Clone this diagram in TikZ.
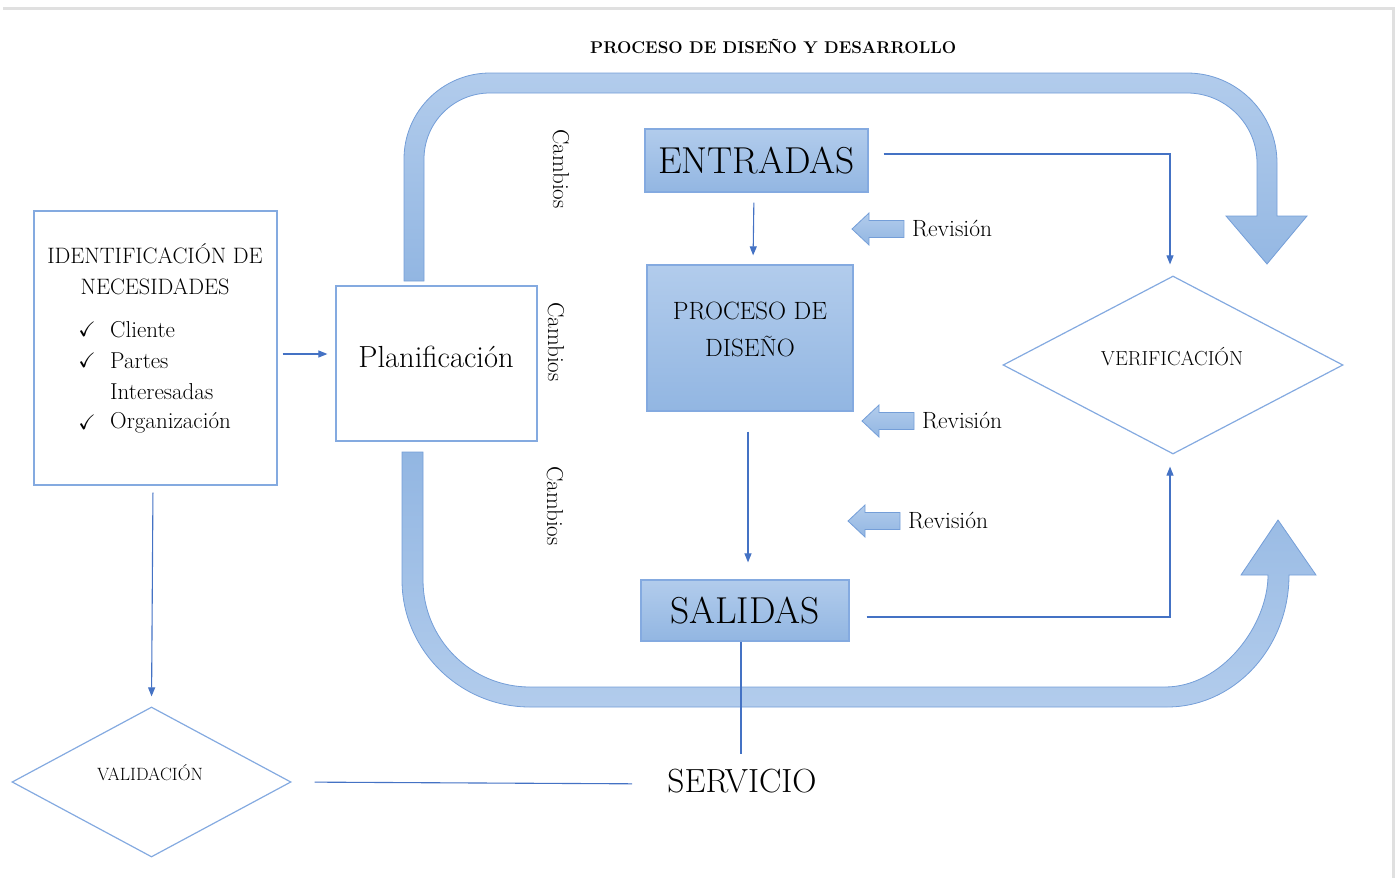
\documentclass[tikz,border=0pt]{standalone}
\usepackage{amsmath, amssymb}
\usepackage{tikz}
\usetikzlibrary{shapes.geometric, arrows.meta}

\definecolor{bandtop}{RGB}{178,204,236}
\definecolor{bandlow}{RGB}{146,182,226}
\definecolor{bandline}{RGB}{116,158,216}
\definecolor{thinblue}{RGB}{68,114,196}
\definecolor{frameblue}{RGB}{132,170,224}

% block arrow pointing left with its label: tip x, tip y, name
\newcommand{\revarrow}[3]{%
  \path[band] (#1,#2) -- ++(17,-16) -- ++(0,7.5) -- ++(35,0) -- ++(0,17)
    -- ++(-35,0) -- ++(0,7.5) -- cycle;
  \node[revtext] (#3) at (#1+60,#2) {Revisión};}

\begin{document}
\begin{tikzpicture}[x=1pt, y=-1pt]
        \tikzstyle{plainbox} = [draw=frameblue, line width=1.2pt, fill=white, inner sep=0pt]
        \tikzstyle{bluebox} = [draw=frameblue, line width=1.2pt, top color=bandtop, bottom color=bandlow, inner sep=0pt]
        \tikzstyle{decision} = [diamond, draw=frameblue, line width=1.2pt, inner sep=0pt]
        \tikzstyle{band} = [draw=bandline, line width=0.8pt, top color=bandtop, bottom color=bandlow]
        \tikzstyle{link} = [thinblue, line width=1.1pt]
        \tikzstyle{linkarrow} = [link, -{Triangle[length=9pt,width=7pt]}]
        \tikzstyle{vtext} = [rotate=-90, inner sep=0pt, font=\fontsize{23}{27}\selectfont]
        \tikzstyle{revtext} = [anchor=west, inner sep=0pt, font=\fontsize{23.5}{27}\selectfont]
        \tikzstyle{listtext} = [anchor=west, inner sep=0pt, font=\fontsize{23}{27}\selectfont]
        \useasboundingbox (0,0) rectangle (1400,878);
        \draw[black!12, line width=3pt] (3,8) -- (1393,8) -- (1393,878);
        \node[anchor=west, inner sep=0pt, font=\bfseries\fontsize{17}{20}\selectfont] (title) at (590,46) {PROCESO DE DISEÑO Y DESARROLLO};
        % big loop arrows
        \path[band] (404,281) -- (404,159) .. controls (404,111.5) and (442.5,73) .. (490,73)
        -- (1187,73) .. controls (1236.7,73) and (1277,113.3) .. (1277,163)
        -- (1277,216) -- (1307,216) -- (1267,264) -- (1226,216) -- (1257,216)
        -- (1257,163) .. controls (1257,124.4) and (1225.6,93) .. (1187,93)
        -- (490,93) .. controls (453.6,93) and (424,122.6) .. (424,159) -- (424,281) -- cycle;
        \path[band, top color=bandlow, bottom color=bandtop] (402,452) -- (402,580) .. controls (402,650.1) and (459.9,707) .. (530,707)
        -- (1167,707) .. controls (1234.3,707) and (1289,647.9) .. (1289,575)
        -- (1316,575) -- (1278,520) -- (1241,575) -- (1268,575)
        .. controls (1268,625.2) and (1221.9,687) .. (1165,687)
        -- (530,687) .. controls (470.9,687) and (423,639.1) .. (423,580) -- (423,452) -- cycle;
        % needs
        \node[plainbox, minimum width=243pt, minimum height=274pt] (needs) at (155.5,348) {};
        \node[align=center, inner sep=0pt, font=\fontsize{22.3}{31}\selectfont] (needstitle) at (155,269.5) {IDENTIFICACIÓN DE\\NECESIDADES};
        \node[inner sep=0pt, font=\fontsize{21}{25}\selectfont] (chk1) at (87,329) {$\checkmark$};
        \node[inner sep=0pt, font=\fontsize{21}{25}\selectfont] (chk2) at (87,360) {$\checkmark$};
        \node[inner sep=0pt, font=\fontsize{21}{25}\selectfont] (chk3) at (87,422) {$\checkmark$};
        \node[listtext] (cliente) at (110,330) {Cliente};
        \node[listtext] (partes) at (110,361) {Partes};
        \node[listtext] (interesadas) at (110,392) {Interesadas};
        \node[listtext] (organizacion) at (110,423) {Organización};
        % planning
        \node[plainbox, minimum width=201pt, minimum height=155pt] (plan) at (436.5,363.5) {};
        \node[inner sep=0pt, font=\fontsize{30.5}{36}\selectfont] (plantext) at (436,357) {Planificación};
        \node[vtext] (cambios1) at (561,169) {Cambios};
        \node[vtext] (cambios2) at (556,342) {Cambios};
        \node[vtext] (cambios3) at (555,506) {Cambios};
        % design chain
        \node[bluebox, minimum width=223pt, minimum height=63pt, font=\fontsize{37.5}{44}\selectfont] (entradas) at (756.5,160.5) {ENTRADAS};
        \node[bluebox, minimum width=206pt, minimum height=146pt] (proceso) at (750,338) {};
        \node[align=center, inner sep=0pt, font=\fontsize{25}{37}\selectfont] (procesotext) at (750,329.5) {PROCESO DE\\DISEÑO};
        \node[bluebox, minimum width=208pt, minimum height=61pt, font=\fontsize{37.5}{44}\selectfont] (salidas) at (745,610.5) {SALIDAS};
        \node[inner sep=0pt, font=\fontsize{33.5}{40}\selectfont] (servicio) at (742,781) {SERVICIO};
        \revarrow{852}{229}{rev1}
        \revarrow{862}{421}{rev2}
        \revarrow{848}{521}{rev3}
        % checks
        \node[decision, minimum width=340pt, minimum height=178pt] (verif) at (1173,365) {};
        \node[inner sep=0pt, font=\fontsize{20.3}{24}\selectfont] (veriftext) at (1172,357) {VERIFICACIÓN};
        \node[decision, minimum width=279pt, minimum height=150pt] (valid) at (151.5,782) {};
        \node[inner sep=0pt, font=\fontsize{17.8}{21}\selectfont] (validtext) at (150,773) {VALIDACIÓN};
        % links
        \coordinate (p1) at ([yshift=-6pt]needs.east);
        \coordinate (p2) at ([xshift=-2pt]proceso.south);
        \coordinate (p3) at ([xshift=-4pt]salidas.south);
        \draw[linkarrow, shorten <=5pt, shorten >=8pt] (p1) -- (p1 -| plan.west);
        \draw[linkarrow, shorten <=10pt, shorten >=9pt] ([xshift=-2.5pt]entradas.south) -- ([xshift=3pt]proceso.north);
        \draw[linkarrow, shorten <=20pt, shorten >=17pt] (p2) -- (p2 |- salidas.north);
        \draw[link, shorten >=15pt] (p3) -- (p3 |- servicio.north);
        \draw[link, shorten <=23pt, shorten >=35pt] (valid.east) -- ([yshift=-3pt]servicio.west);
        \draw[linkarrow, shorten <=7pt, shorten >=10pt] ([xshift=-2.5pt]needs.south) -- (valid.north);
        \draw[linkarrow, shorten <=15pt, shorten >=11pt] ([yshift=6.5pt]entradas.east) -| ([xshift=-3pt]verif.north);
        \draw[linkarrow, shorten <=17pt, shorten >=12pt] ([yshift=-6.5pt]salidas.east) -| ([xshift=-3pt]verif.south);
\end{tikzpicture}
\end{document}
